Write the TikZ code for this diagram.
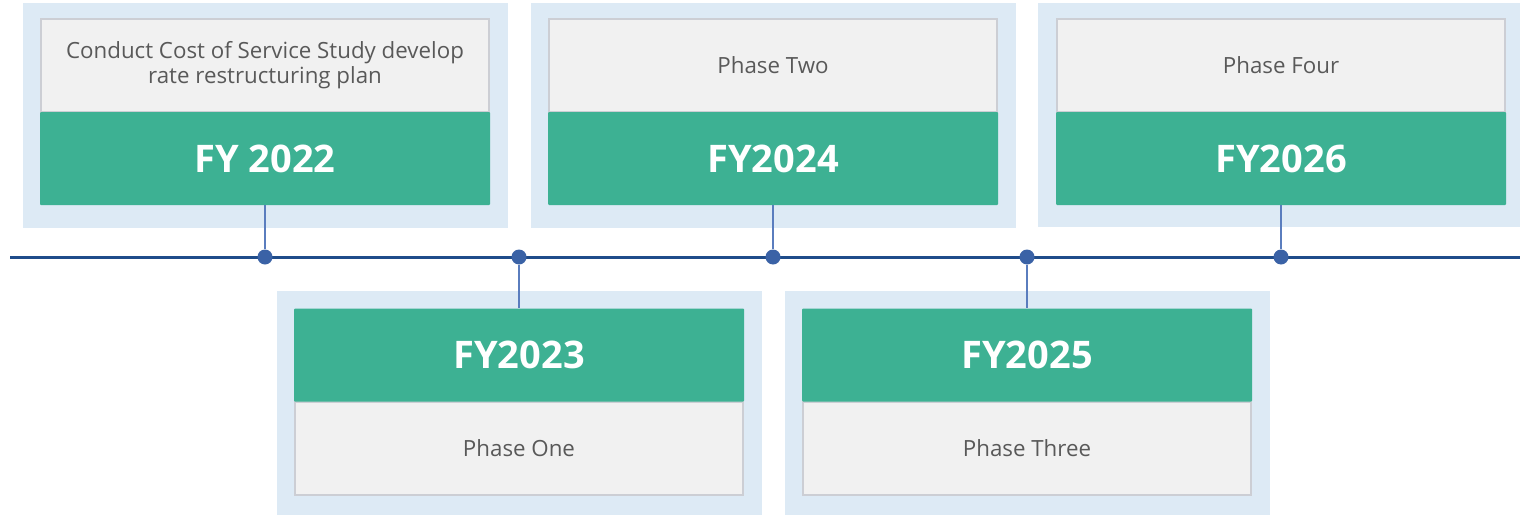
\documentclass[tikz,border=0pt]{standalone}
\usepackage{fontspec}
\setmainfont{Open Sans}
\usetikzlibrary{positioning}
\definecolor{panelblue}{HTML}{DDEAF5}
\definecolor{cardgray}{HTML}{F1F1F1}
\definecolor{cardedge}{HTML}{CCCED4}
\definecolor{yeargreen}{HTML}{3DB193}
\definecolor{axisblue}{HTML}{1F4C8A}
\definecolor{dotblue}{HTML}{3A62A6}
\definecolor{stemblue}{HTML}{5A7DBE}
\definecolor{textgray}{HTML}{595959}

\begin{document}
\begin{tikzpicture}[x=1pt,y=-1pt,
  panel/.style={fill=panelblue,minimum width=485pt,minimum height=225pt,inner sep=0pt},
  card/.style={fill=cardgray,draw=cardedge,line width=2pt,minimum width=448pt,minimum height=93pt,
    inner sep=0pt,align=center,text=textgray,font=\fontsize{22.3}{25.5}\selectfont},
  year/.style={fill=yeargreen,rounded corners=1pt,minimum width=450pt,minimum height=93pt,
    inner sep=0pt,text=white,font=\fontsize{38}{42}\selectfont\bfseries},
  dot/.style={circle,fill=dotblue,minimum size=15pt,inner sep=0pt},
  stem/.style={stemblue,line width=1.2pt}]
  \useasboundingbox (0,0) rectangle (1520,514);
  \fill[panelblue] (1038,3) rectangle (1520,227);
  % top row
  \foreach \x/\n/\yr/\txt in {265/22/FY 2022/{Conduct Cost of Service Study develop\\rate restructuring plan},
                              773/24/FY2024/{Phase Two},1281/26/FY2026/{Phase Four}}{
    \ifnum\n<26 \node[panel] at (\x,115.5) {};\fi
    \node[card] (c\n) at (\x,65) {\txt};
    \node[year] (fy\n) at (\x,158.5) {\yr};
  }
  % bottom row
  \foreach \x/\n/\yr/\txt in {519/23/FY2023/{Phase One},1027/25/FY2025/{Phase Three}}{
    \node[panel] at (\x,403.5) {};
    \node[card] (c\n) at (\x,448.5) {\txt};
    \node[year] (fy\n) at (\x,355) {\yr};
  }
  % timeline
  \coordinate (start) at (10,257);
  \coordinate (end) at (1520,257);
  \draw[axisblue,line width=3pt] (start) -- (end);
  \foreach \x/\n in {265/22,519/23,773/24,1027/25,1281/26}{
    \node[dot] (d\n) at (\x,257) {};
  }
  \foreach \n in {22,24,26} \draw[stem] (fy\n.south) -- (d\n);
  \foreach \n in {23,25} \draw[stem] (d\n) -- (fy\n.north);
\end{tikzpicture}
\end{document}
